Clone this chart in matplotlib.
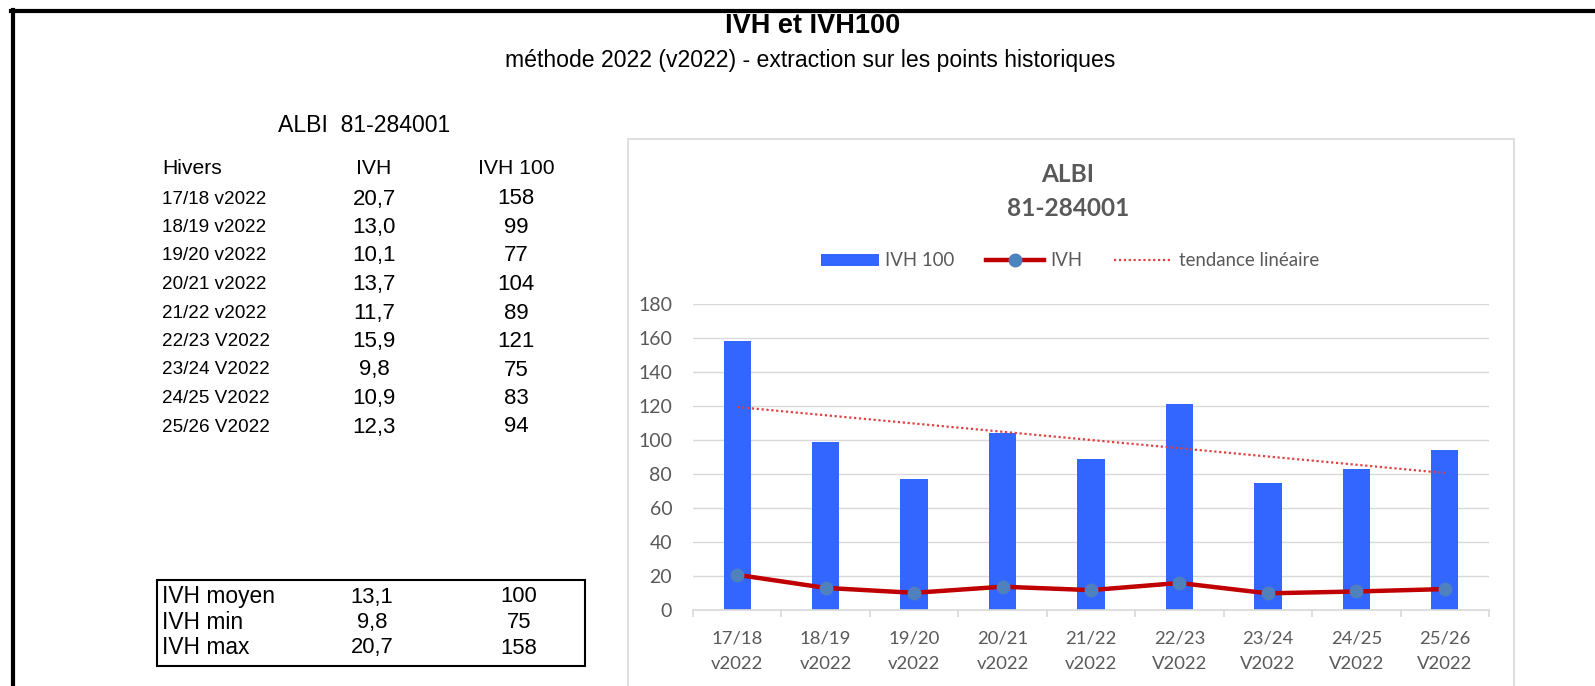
import matplotlib.pyplot as plt
import numpy as np
from matplotlib.patches import Rectangle, Patch
from matplotlib.lines import Line2D

# winters and indices for ALBI 81-284001
hivers = ['17/18 v2022', '18/19 v2022', '19/20 v2022', '20/21 v2022', '21/22 v2022',
          '22/23 V2022', '23/24 V2022', '24/25 V2022', '25/26 V2022']
ivh = [20.7, 13.0, 10.1, 13.7, 11.7, 15.9, 9.8, 10.9, 12.3]
ivh100 = [158, 99, 77, 104, 89, 121, 75, 83, 94]

stat_labels = ['IVH moyen', 'IVH min', 'IVH max']
stat_ivh = [13.1, 9.8, 20.7]
stat_ivh100 = [100, 75, 158]

W, H = 1595, 686
fig = plt.figure(figsize=(W / 100, H / 100), dpi=100)


def fx(px):
    return px / W


def fy(py):
    return 1 - py / H


def ty(py):
    # text centres sit a little high with va='center'
    return fy(py + 3)


def fmt(v):
    return f'{v:.1f}'.replace('.', ',')


ARIAL = 'Liberation Sans'
CHART_FONT = 'Lato'
GREY = '#595959'

# outer frame (top and left edges)
fig.add_artist(Line2D([fx(11), fx(W)], [fy(11), fy(11)], color='black', lw=3))
fig.add_artist(Line2D([fx(13), fx(13)], [fy(9.5), fy(H + 5)], color='black', lw=3))

# headings
fig.text(fx(813), fy(33), 'IVH et IVH100', ha='center', va='baseline',
         fontsize=19.5, fontweight='bold', family=ARIAL)
fig.text(fx(810), ty(57), 'méthode 2022 (v2022) - extraction sur les points historiques',
         ha='center', va='center', fontsize=16.6, family=ARIAL)
fig.text(fx(278), ty(123), 'ALBI  81-284001', ha='left', va='center', fontsize=16.6, family=ARIAL)

# left table
x_lab, x_ivh, x_100 = 162, 374, 516
y0, dy = 196, 28.5
fig.text(fx(x_lab), ty(166), 'Hivers', ha='left', va='center', fontsize=15.2, family=ARIAL)
fig.text(fx(x_ivh), ty(166), 'IVH', ha='center', va='center', fontsize=15.2, family=ARIAL)
fig.text(fx(x_100), ty(166), 'IVH 100', ha='center', va='center', fontsize=15.2, family=ARIAL)
for i, (h, a, b) in enumerate(zip(hivers, ivh, ivh100)):
    y = y0 + i * dy
    fig.text(fx(x_lab), ty(y), h, ha='left', va='center', fontsize=13.6, family=ARIAL)
    fig.text(fx(x_ivh), ty(y), fmt(a), ha='center', va='center', fontsize=16, family=ARIAL)
    fig.text(fx(x_100), ty(y), str(b), ha='center', va='center', fontsize=16, family=ARIAL)

# summary box
fig.add_artist(Rectangle((fx(157), fy(666)), fx(585 - 157), (666 - 580) / H,
                         fill=False, edgecolor='black', lw=1.5))
for i, (lab, a, b) in enumerate(zip(stat_labels, stat_ivh, stat_ivh100)):
    y = 594 + i * 25.5
    fig.text(fx(162), ty(y), lab, ha='left', va='center', fontsize=16.4, family=ARIAL)
    fig.text(fx(372), ty(y), fmt(a), ha='center', va='center', fontsize=15.8, family=ARIAL)
    fig.text(fx(519), ty(y), str(b), ha='center', va='center', fontsize=15.8, family=ARIAL)

# chart area frame
fig.add_artist(Rectangle((fx(628), fy(H + 10)), fx(1514 - 628), (H + 10 - 139) / H,
                         fill=False, edgecolor='#D9D9D9', lw=1.2))
fig.text(fx(1068), ty(171), 'ALBI', ha='center', va='center', fontsize=17.6,
         fontweight='bold', color=GREY, family=CHART_FONT)
fig.text(fx(1068), ty(205), '81-284001', ha='center', va='center', fontsize=17.6,
         fontweight='bold', color=GREY, family=CHART_FONT)

ax = fig.add_axes([fx(693), fy(610), fx(1489 - 693), (610 - 304) / H])
x = np.arange(len(hivers))
ax.bar(x, ivh100, width=0.31, color='#3366FF', zorder=2)
ax.plot(x, ivh, color='#C00000', lw=3.2, marker='o', markersize=9,
        markerfacecolor='#4F81BD', markeredgecolor='#4F81BD', zorder=3)

# linear trend of IVH 100
slope, intercept = np.polyfit(x, ivh100, 1)
ax.plot(x, slope * x + intercept, color='#E04040', lw=1.6, ls=(0, (1, 1.2)), zorder=4)

ax.set_xlim(-0.5, len(hivers) - 0.5)
ax.set_ylim(0, 180)
ax.set_yticks(np.arange(0, 181, 20))
ax.grid(axis='y', color='#D9D9D9', lw=1)
ax.set_axisbelow(True)
for s in ['top', 'right', 'left']:
    ax.spines[s].set_visible(False)
ax.spines['bottom'].set_color('#D9D9D9')
ax.spines['bottom'].set_linewidth(1.2)

ax.set_xticks(x)
ax.set_xticklabels([h.replace(' ', '\n') for h in hivers], linespacing=1.68)
ax.set_xticks(np.arange(-0.5, len(hivers)), minor=True)
ax.tick_params(axis='x', which='major', length=0, pad=15, labelsize=13.3,
               labelcolor=GREY)
ax.tick_params(axis='x', which='minor', length=5, color='#D9D9D9', width=1.2)
ax.tick_params(axis='y', length=0, pad=15, labelsize=14, labelcolor=GREY)
for lab in ax.get_xticklabels() + ax.get_yticklabels():
    lab.set_family(CHART_FONT)

handles = [Patch(facecolor='#3366FF', label='IVH 100'),
           Line2D([], [], color='#C00000', lw=3.2, marker='o', markersize=9,
                  markerfacecolor='#4F81BD', markeredgecolor='#4F81BD', label='IVH'),
           Line2D([], [], color='#E04040', lw=1.6, ls=(0, (1, 1.2)), label='tendance linéaire')]
fig.legend(handles=handles, loc='center', bbox_to_anchor=(fx(1070), fy(261)), ncol=3,
           frameon=False, handlelength=3.1, handleheight=0.65, handletextpad=0.35,
           columnspacing=1.7, prop={'family': CHART_FONT, 'size': 13.4},
           labelcolor=GREY)

fig.savefig('out.png', dpi=100)
